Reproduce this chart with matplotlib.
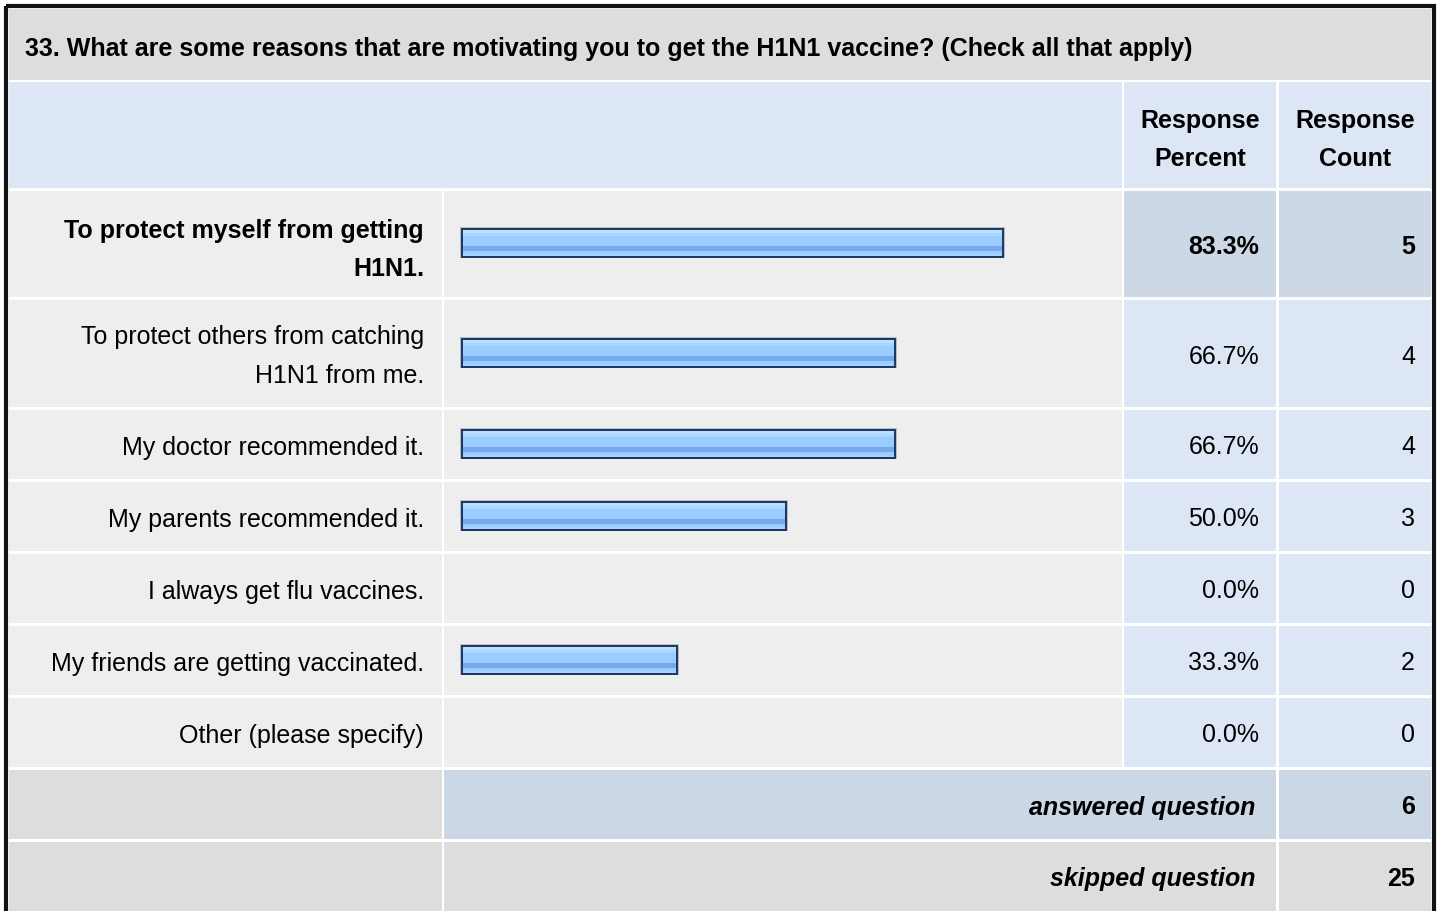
import matplotlib
matplotlib.use("Agg")
from matplotlib import pyplot as plt
from matplotlib.patches import Rectangle

plt.rcParams['font.family'] = ['Liberation Sans', 'DejaVu Sans']

title = "33. What are some reasons that are motivating you to get the H1N1 vaccine? (Check all that apply)"
choices = [
    "To protect myself from getting\nH1N1.",
    "To protect others from catching\nH1N1 from me.",
    "My doctor recommended it.",
    "My parents recommended it.",
    "I always get flu vaccines.",
    "My friends are getting vaccinated.",
    "Other (please specify)",
]
percents = [83.3, 66.7, 66.7, 50.0, 0.0, 33.3, 0.0]
counts = [5, 4, 4, 3, 0, 2, 0]
answered = 6
skipped = 25

W, H = 1440, 911
fig = plt.figure(figsize=(W / 100, H / 100), dpi=100)
ax = fig.add_axes([0, 0, 1, 1])
ax.set_xlim(0, W)
ax.set_ylim(H, 0)
ax.axis('off')

# column edges (x0, x1)
col_label = (9, 442)
col_bar = (444, 1122)
col_pct = (1124, 1276)
col_cnt = (1279, 1431)

# row edges (y0, y1)
row_edges = [(191, 297), (300, 407), (410, 479), (482, 551),
             (554, 623), (626, 695), (698, 767)]
ans_row = (770, 839)
skip_row = (842, 915)

grey_head = '#dddddd'
blue_head = '#dce6f4'
row_grey = '#eeeeee'
blue_hi = '#ccd8e6'
blue_tot = '#cbd7e5'


def cell(x, y, c):
    ax.add_patch(Rectangle((x[0], y[0]), x[1] - x[0], y[1] - y[0],
                           facecolor=c, edgecolor='none', zorder=1))


fs = 18
dy = 3  # text sits a little below the cell middle
ls = 1.78

# title band
cell((9, 1431), (9, 80), grey_head)
ax.text(25, 46 + dy, title, fontsize=fs, fontweight='bold', va='center', ha='left')

# header band
cell((9, 1122), (82, 188), blue_head)
cell(col_pct, (82, 188), blue_head)
cell(col_cnt, (82, 188), blue_head)
ax.text((col_pct[0] + col_pct[1]) / 2, 137 + dy, "Response\nPercent", fontsize=fs,
        fontweight='bold', ha='center', va='center', linespacing=ls)
ax.text((col_cnt[0] + col_cnt[1]) / 2, 137 + dy, "Response\nCount", fontsize=fs,
        fontweight='bold', ha='center', va='center', linespacing=ls)

# bar scale: pixels per percent
bar_x0 = 461
px_per_pct = 6.52
bar_h = 30
stripes = [  # (offset from top, height, colour)
    (0, 30, '#1c3a62'),
    (2, 3, '#bcdfff'),
    (5, 3, '#a9d5ff'),
    (8, 10, '#99ccff'),
    (18, 5, '#76aaec'),
    (23, 3, '#99ccff'),
    (26, 2, '#a6d2ff'),
]

for i, (lab, p, n) in enumerate(zip(choices, percents, counts)):
    y0, y1 = row_edges[i]
    yc = (y0 + y1) / 2
    hi = i == 0
    cell(col_label, (y0, y1), row_grey)
    cell(col_bar, (y0, y1), row_grey)
    cell(col_pct, (y0, y1), blue_hi if hi else blue_head)
    cell(col_cnt, (y0, y1), blue_hi if hi else blue_head)
    wt = 'bold' if hi else 'normal'
    ax.text(424, yc + dy + (3 if hi else 0), lab, fontsize=fs, fontweight=wt,
            ha='right', va='center', linespacing=ls)
    ax.text(1259, yc + dy, f"{p:.1f}%", fontsize=fs, fontweight=wt, ha='right', va='center')
    ax.text(1415, yc + dy, str(n), fontsize=fs, fontweight=wt, ha='right', va='center')
    if p > 0:
        w = p * px_per_pct
        top = yc - bar_h / 2 - 1
        # faint shadow edge
        ax.add_patch(Rectangle((bar_x0 - 1, top - 1), w + 2, bar_h + 1,
                               facecolor='#b8bcc4', edgecolor='none', zorder=2))
        for off, h, c in stripes:
            inset = 0 if off == 0 else 2
            ax.add_patch(Rectangle((bar_x0 + inset, top + off), w - 2 * inset, h,
                                   facecolor=c, edgecolor='none', zorder=3))

# totals
cell(col_label, ans_row, grey_head)
cell((444, 1276), ans_row, blue_tot)
cell(col_cnt, ans_row, blue_tot)
yc = sum(ans_row) / 2
ax.text(1255, yc + dy, "answered question", fontsize=fs, fontweight='bold',
        fontstyle='italic', ha='right', va='center')
ax.text(1415, yc + dy, str(answered), fontsize=fs, fontweight='bold', ha='right', va='center')

cell(col_label, skip_row, grey_head)
cell((444, 1276), skip_row, grey_head)
cell(col_cnt, skip_row, grey_head)
yc = 876
ax.text(1255, yc + dy, "skipped question", fontsize=fs, fontweight='bold',
        fontstyle='italic', ha='right', va='center')
ax.text(1415, yc + dy, str(skipped), fontsize=fs, fontweight='bold', ha='right', va='center')

# outer frame
ax.add_patch(Rectangle((6, 6), 1428, 920, facecolor='none', edgecolor='#111111',
                       linewidth=3, zorder=5))

fig.savefig('out.png', dpi=100)
